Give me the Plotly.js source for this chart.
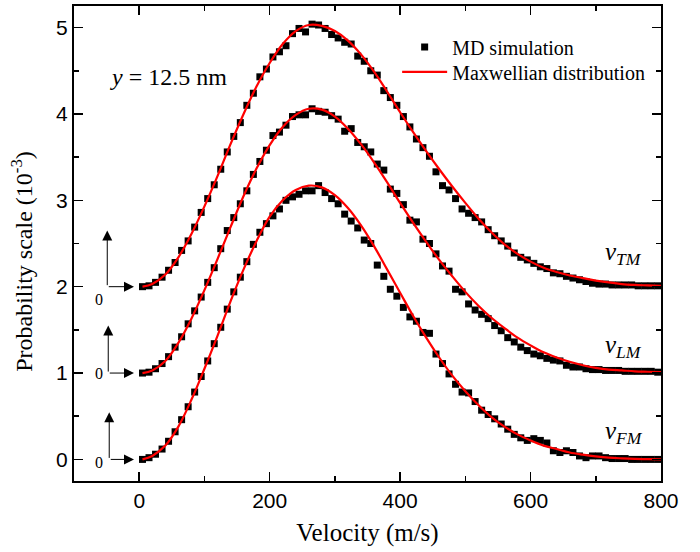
<!DOCTYPE html>
<html>
<head>
<meta charset="utf-8">
<script src="https://cdn.plot.ly/plotly-3.0.1.min.js"></script>
<style>
  html, body { margin: 0; padding: 0; background: #fff; }
  #chart { width: 700px; height: 552px; }
</style>
</head>
<body>
<div id="chart"></div>
<script>
// ---- Data (curves are stacked with offsets 0, 1, 2) ----
var simVelocity = [5,15,25,35,45,55,65,75,85,95,105,115,125,135,145,155,165,175,185,195,
  205,215,225,235,245,255,265,275,285,295,305,315,325,335,345,355,365,375,385,395,
  405,415,425,435,445,455,465,475,485,495,505,515,525,535,545,555,565,575,585,595,
  605,615,625,635,645,655,665,675,685,695,705,715,725,735,745,755,765,775,785,795];

var simFM = [0.00,0.02,0.06,0.12,0.21,0.32,0.46,0.61,0.78,0.96,1.14,1.34,1.53,1.74,1.94,2.11,2.29,2.49,2.63,2.73,
  2.82,2.90,3.00,3.04,3.07,3.11,3.11,3.17,3.09,3.02,2.96,2.84,2.76,2.68,2.54,2.50,2.25,2.12,1.97,1.89,
  1.76,1.65,1.60,1.47,1.46,1.22,1.11,0.99,0.87,0.78,0.77,0.67,0.57,0.52,0.47,0.41,0.35,0.29,0.25,0.22,
  0.24,0.22,0.19,0.10,0.08,0.10,0.08,0.04,0.02,0.04,0.04,0.02,0.01,0.01,0.01,0.00,0.00,0.00,0.00,0.00];

var simLM = [1.00,1.01,1.05,1.11,1.19,1.30,1.42,1.57,1.72,1.88,2.05,2.22,2.44,2.65,2.80,2.96,3.11,3.30,3.45,3.58,
  3.75,3.79,3.87,3.97,3.99,3.99,4.06,4.03,4.02,3.98,3.94,3.80,3.83,3.67,3.62,3.56,3.42,3.35,3.13,3.08,
  2.95,2.77,2.75,2.55,2.50,2.38,2.24,2.18,1.97,1.94,1.80,1.73,1.68,1.63,1.55,1.49,1.41,1.36,1.30,1.26,
  1.22,1.20,1.17,1.15,1.14,1.09,1.07,1.07,1.05,1.04,1.04,1.03,1.03,1.03,1.02,1.02,1.02,1.02,1.02,1.01];

var simTM = [2.00,2.01,2.05,2.11,2.19,2.28,2.42,2.53,2.69,2.86,3.02,3.18,3.36,3.56,3.74,3.90,4.10,4.24,4.43,4.52,
  4.66,4.72,4.79,4.93,4.99,4.95,5.04,5.03,4.99,4.92,4.88,4.83,4.81,4.67,4.61,4.50,4.45,4.27,4.19,4.10,
  3.97,3.85,3.71,3.61,3.51,3.33,3.17,3.12,3.02,2.90,2.85,2.80,2.75,2.66,2.59,2.53,2.47,2.39,2.34,2.31,
  2.27,2.23,2.21,2.16,2.15,2.12,2.10,2.08,2.06,2.04,2.03,2.03,2.02,2.02,2.02,2.02,2.01,2.01,2.01,2.01];

var fitVelocity = [5,20,40,60,80,100,120,140,160,180,200,220,240,260,280,300,320,340,360,380,
  400,420,440,460,480,500,520,540,560,580,600,620,640,660,680,700,720,740,760,780,800];

var fitFM = [0.00,0.04,0.16,0.38,0.69,1.05,1.43,1.83,2.20,2.53,2.81,3.00,3.12,3.17,3.15,3.06,2.91,2.71,2.47,2.20,
  1.93,1.66,1.41,1.18,0.97,0.79,0.63,0.49,0.38,0.29,0.22,0.16,0.12,0.08,0.055,0.035,0.02,0.012,0.006,0.003,0.00];

var fitLM = [1.00,1.03,1.14,1.35,1.63,1.96,2.32,2.69,3.05,3.37,3.64,3.85,3.99,4.06,4.05,3.97,3.83,3.65,3.44,3.21,
  2.97,2.74,2.52,2.31,2.12,1.94,1.78,1.64,1.52,1.41,1.32,1.24,1.18,1.13,1.09,1.06,1.04,1.03,1.02,1.015,1.01];

var fitTM = [2.00,2.03,2.14,2.34,2.61,2.93,3.28,3.65,4.00,4.32,4.59,4.81,4.96,5.03,5.02,4.96,4.85,4.69,4.49,4.26,
  4.02,3.79,3.57,3.36,3.16,2.97,2.79,2.63,2.49,2.38,2.29,2.22,2.17,2.13,2.10,2.07,2.05,2.03,2.02,2.015,2.01];

var baselines = [0, 1, 2];
var curveLabels = ['<i>v</i><sub><i>FM</i></sub>', '<i>v</i><sub><i>LM</i></sub>', '<i>v</i><sub><i>TM</i></sub>'];
var labelY = [0.31, 1.31, 2.38];
var arrowTipY = [0.545, 1.55, 2.65];
var zeroLabelY = [-0.03, 0.99, 1.85];

var xTicks = [0, 200, 400, 600, 800];
var yTicks = [0, 1, 2, 3, 4, 5];

// ---- Traces ----
var serif = 'Liberation Serif, Times New Roman, serif';
var sans = 'Liberation Sans, Arial, sans-serif';

function simTrace(y, show) {
  return {
    x: simVelocity, y: y, type: 'scatter', mode: 'markers',
    name: 'MD simulation', legend: 'legend', showlegend: show,
    marker: { symbol: 'square', size: 7, color: '#000000' },
    hoverinfo: 'x+y'
  };
}
function fitTrace(y, show) {
  return {
    x: fitVelocity, y: y, type: 'scatter', mode: 'lines',
    name: 'Maxwellian distribution', legend: 'legend2', showlegend: show,
    line: { color: '#ff0000', width: 2.2, shape: 'spline', smoothing: 1 },
    hoverinfo: 'x+y'
  };
}

var data = [
  simTrace(simFM, true), simTrace(simLM, false), simTrace(simTM, false),
  fitTrace(fitFM, true), fitTrace(fitLM, false), fitTrace(fitTM, false)
];

// ---- Annotations ----
var annotations = [];
annotations.push({
  x: -48, y: 4.43, xref: 'x', yref: 'y', xanchor: 'left', yanchor: 'middle',
  text: '<i>y</i> = 12.5 nm', showarrow: false,
  font: { family: serif, size: 24, color: '#000' }
});
for (var i = 0; i < baselines.length; i++) {
  var b = baselines[i];
  var ax = -46 - i * 1.5;
  // vertical arrow
  annotations.push({
    x: ax, y: arrowTipY[i], ax: ax, ay: b, xref: 'x', yref: 'y', axref: 'x', ayref: 'y',
    text: '', showarrow: true, arrowhead: 2, arrowsize: 2, arrowwidth: 1, arrowcolor: '#000'
  });
  // horizontal arrow
  annotations.push({
    x: -8, y: b, ax: ax, ay: b, xref: 'x', yref: 'y', axref: 'x', ayref: 'y',
    text: '', showarrow: true, arrowhead: 2, arrowsize: 2, arrowwidth: 1, arrowcolor: '#000'
  });
  // zero label
  annotations.push({
    x: -61, y: zeroLabelY[i], xref: 'x', yref: 'y', xanchor: 'center', yanchor: 'middle',
    text: '0', showarrow: false, font: { family: serif, size: 16, color: '#000' }
  });
  // curve label
  annotations.push({
    x: 711, y: labelY[i], xref: 'x', yref: 'y', xanchor: 'left', yanchor: 'middle',
    text: curveLabels[i], showarrow: false, font: { family: serif, size: 25, color: '#000' }
  });
}

var legendFont = { family: serif, size: 20, color: '#000' };
var layout = {
  width: 700, height: 552,
  margin: { l: 74, r: 39, t: 6, b: 71, pad: 0 },
  paper_bgcolor: '#ffffff', plot_bgcolor: '#ffffff',
  showlegend: true,
  legend: {
    x: 0.5505, y: 0.955, xanchor: 'left', yanchor: 'top', itemwidth: 45,
    bgcolor: 'rgba(0,0,0,0)', borderwidth: 0, font: legendFont
  },
  legend2: {
    x: 0.5505, y: 0.9023, xanchor: 'left', yanchor: 'top', itemwidth: 45,
    bgcolor: 'rgba(0,0,0,0)', borderwidth: 0, font: legendFont
  },
  xaxis: {
    range: [-100, 800], autorange: false,
    tickvals: xTicks, ticktext: xTicks.map(String),
    ticks: 'inside', ticklen: 9, tickwidth: 1.5, tickcolor: '#000',
    minor: { dtick: 100, tick0: 0, ticks: 'inside', ticklen: 5, tickwidth: 1.5, tickcolor: '#000' },
    showline: true, linecolor: '#000', linewidth: 2, mirror: 'allticks',
    showgrid: false, zeroline: false,
    tickfont: { family: sans, size: 21, color: '#000' },
    title: { text: 'Velocity (m/s)', font: { family: serif, size: 25, color: '#000' }, standoff: 12 },
    automargin: false
  },
  yaxis: {
    range: [-0.25, 5.25], autorange: false,
    tickvals: yTicks, ticktext: yTicks.map(String),
    ticks: 'inside', ticklen: 9, tickwidth: 1.5, tickcolor: '#000',
    minor: { dtick: 0.5, tick0: 0, ticks: 'inside', ticklen: 5, tickwidth: 1.5, tickcolor: '#000' },
    showline: true, linecolor: '#000', linewidth: 2, mirror: 'allticks',
    showgrid: false, zeroline: false,
    tickfont: { family: sans, size: 21, color: '#000' },
    title: { text: 'Probability scale (10<sup>-3</sup>)&nbsp;&nbsp;&nbsp;&nbsp;&nbsp;&nbsp;', font: { family: serif, size: 24, color: '#000' }, standoff: 17 },
    automargin: false
  },
  annotations: annotations
};

Plotly.newPlot('chart', data, layout, { displayModeBar: false, staticPlot: true });
</script>
</body>
</html>
